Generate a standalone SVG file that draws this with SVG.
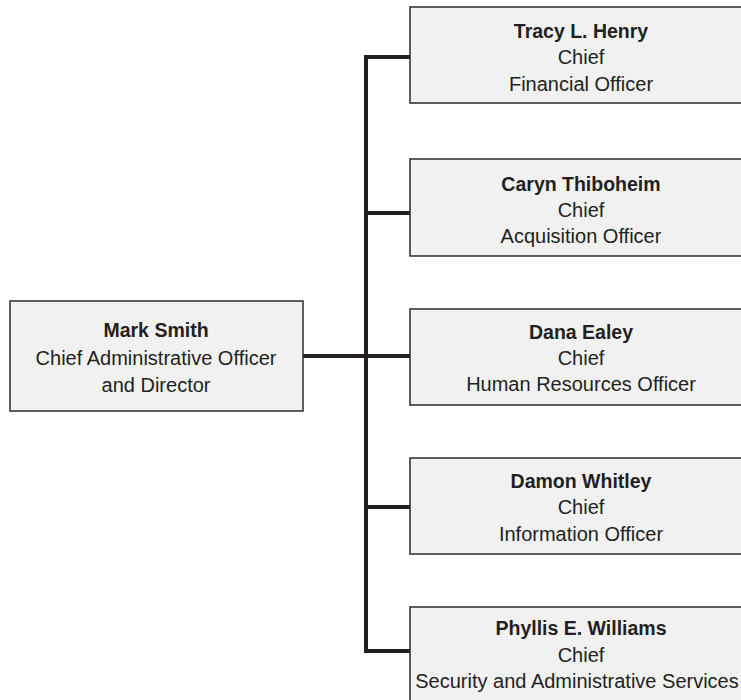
<svg xmlns="http://www.w3.org/2000/svg" width="741" height="700" viewBox="0 0 741 700">
<style>
.box{fill:#f0f1f0;stroke:#2b2b2b;stroke-width:1.5}
.t{font-family:"Liberation Sans",Arial,sans-serif;font-size:20px;fill:#231f20;text-anchor:middle}
.b{font-weight:bold;font-size:19.5px}
.c{fill:none;stroke:#231f20;stroke-width:4}
</style>
<rect width="741" height="700" fill="#ffffff"/>
<g id="connectors">
<path class="c" d="M302,356 H366 M366,57 V653 M364,57 H410 M366,213 H410 M366,356 H410 M366,507 H410 M364,651 H410"/>
</g>
<g id="mark-smith">
<rect class="box" x="10" y="301" width="293" height="110"/>
<text class="t b" x="156" y="337">Mark Smith</text>
<text class="t" x="156" y="365">Chief Administrative Officer</text>
<text class="t" x="156" y="392">and Director</text>
</g>
<g id="tracy-henry">
<rect class="box" x="410" y="7" width="345" height="96"/>
<text class="t b" x="581" y="38">Tracy L. Henry</text>
<text class="t" x="581" y="64">Chief</text>
<text class="t" x="581" y="91">Financial Officer</text>
</g>
<g id="caryn-thiboheim">
<rect class="box" x="410" y="159" width="345" height="97"/>
<text class="t b" x="581" y="191">Caryn Thiboheim</text>
<text class="t" x="581" y="217">Chief</text>
<text class="t" x="581" y="243">Acquisition Officer</text>
</g>
<g id="dana-ealey">
<rect class="box" x="410" y="309" width="345" height="96"/>
<text class="t b" x="581" y="339">Dana Ealey</text>
<text class="t" x="581" y="365">Chief</text>
<text class="t" x="581" y="391">Human Resources Officer</text>
</g>
<g id="damon-whitley">
<rect class="box" x="410" y="458" width="345" height="96"/>
<text class="t b" x="581" y="488">Damon Whitley</text>
<text class="t" x="581" y="514">Chief</text>
<text class="t" x="581" y="541">Information Officer</text>
</g>
<g id="phyllis-williams">
<rect class="box" x="410" y="607" width="345" height="110"/>
<text class="t b" x="581" y="635">Phyllis E. Williams</text>
<text class="t" x="581" y="662">Chief</text>
<text class="t" x="577" y="688">Security and Administrative Services</text>
</g>
</svg>
